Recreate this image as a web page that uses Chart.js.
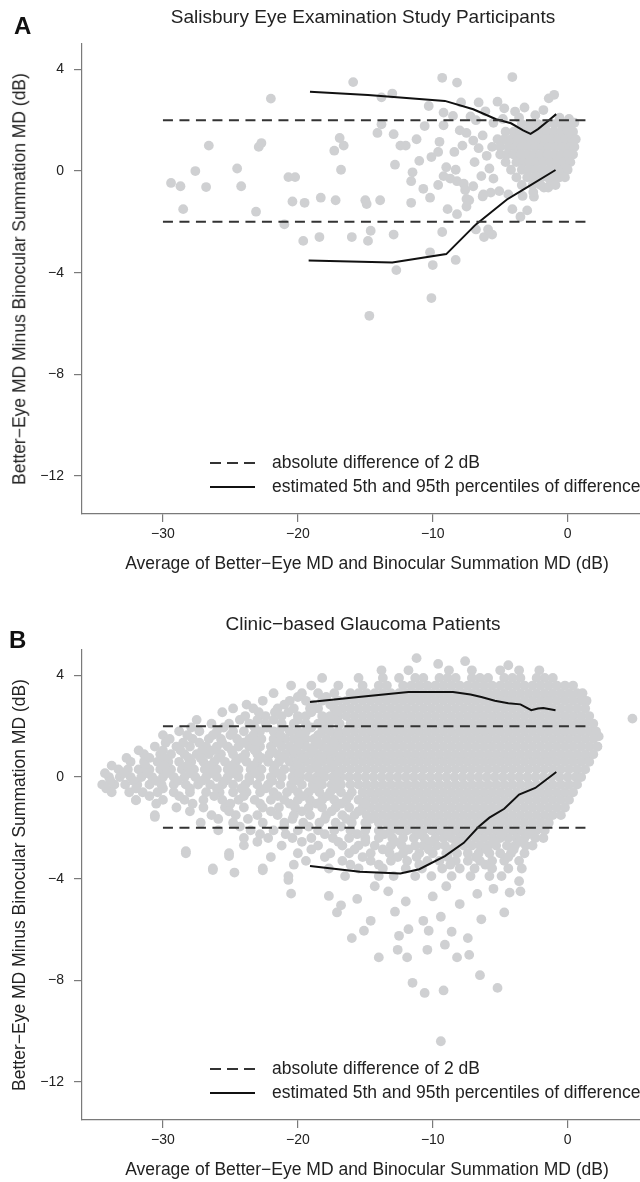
<!DOCTYPE html>
<html>
<head>
<meta charset="utf-8">
<script src="https://cdn.jsdelivr.net/npm/chart.js@4.4.1/dist/chart.umd.min.js"></script>
<style>
  body { margin:0; background:#fff; width:640px; height:1182px; overflow:hidden; position:relative;
         font-family:"Liberation Sans", Arial, sans-serif; color:#222; }
  .panel { position:absolute; left:0; width:640px; height:606px; overflow:hidden; }
  .panel canvas { position:absolute; left:0; top:0; }
  .lbl { position:absolute; white-space:nowrap; line-height:1; }
  .letter { font-size:24px; font-weight:bold; color:#111; transform:translateY(-50%); }
  .title { font-size:19px; transform:translate(-50%,-50%); }
  .xtitle { font-size:17.5px; transform:translate(-50%,-50%); }
  .ytitle { font-size:17.5px; transform:translate(-50%,-50%) rotate(-90deg); }
  .key { position:absolute; left:210px; width:45px; height:2px; }
  .key.dash { background:repeating-linear-gradient(to right, #333 0 11px, transparent 11px 17px); }
  .key.solid { background:#111; }
  .keytext { font-size:17.5px; left:272px; transform:translateY(-50%); }
</style>
</head>
<body>

<div class="panel" style="top:0">
  <canvas id="chartA" width="660" height="560"></canvas>
  <div class="lbl letter" style="left:14px; top:26px">A</div>
  <div class="lbl title" style="left:363px; top:16px">Salisbury Eye Examination Study Participants</div>
  <div class="lbl ytitle" style="left:20px; top:279px">Better−Eye MD Minus Binocular Summation MD (dB)</div>
  <div class="lbl xtitle" style="left:367px; top:564px">Average of Better−Eye MD and Binocular Summation MD (dB)</div>
  <div class="key dash" style="top:462px"></div>
  <div class="lbl keytext" style="top:463px">absolute difference of 2 dB</div>
  <div class="key solid" style="top:486px"></div>
  <div class="lbl keytext" style="top:487px">estimated 5th and 95th percentiles of difference</div>
</div>

<div class="panel" style="top:606px">
  <canvas id="chartB" width="660" height="560"></canvas>
  <div class="lbl letter" style="left:9px; top:34px">B</div>
  <div class="lbl title" style="left:363px; top:17px">Clinic−based Glaucoma Patients</div>
  <div class="lbl ytitle" style="left:20px; top:279px">Better−Eye MD Minus Binocular Summation MD (dB)</div>
  <div class="lbl xtitle" style="left:367px; top:564px">Average of Better−Eye MD and Binocular Summation MD (dB)</div>
  <div class="key dash" style="top:462px"></div>
  <div class="lbl keytext" style="top:463px">absolute difference of 2 dB</div>
  <div class="key solid" style="top:486px"></div>
  <div class="lbl keytext" style="top:487px">estimated 5th and 95th percentiles of difference</div>
</div>

<script>
// ---- axes ----
const xTicks = [-30, -20, -10, 0];
const yTicks = [-12, -8, -4, 0, 4];
const xRange = [-36, 6.4];
const yRange = [-13.5, 5];

// ---- reference lines (|difference| = 2 dB) ----
const limitX = [-30, 1.5];
const limitY = [2, -2];

// ---- panel A: Salisbury Eye Examination Study ----
const aPoints = [
  [-29.4,-0.47],[-28.7,-0.6],[-27.6,0.0],[-26.8,-0.63],[-28.5,-1.5],[-26.6,1.0],[-24.5,0.1],[-24.2,-0.6],
  [-23.1,-1.6],[-22.9,0.95],[-22.7,1.1],[-22.0,2.85],[-21.0,-2.1],[-20.7,-0.24],[-20.2,-0.24],[-20.4,-1.2],
  [-19.5,-1.25],[-19.6,-2.75],[-18.3,-1.05],[-18.4,-2.6],[-17.2,-1.15],[-17.3,0.8],[-16.9,1.3],[-16.6,1.0],
  [-16.8,0.05],[-16.0,-2.6],[-15.9,3.5],[-15.0,-1.15],[-14.9,-1.3],[-14.6,-2.35],[-14.8,-2.75],[-13.9,-1.15],
  [-14.1,1.5],[-14.7,-5.7],[-13.8,2.9],[-13.0,3.05],[-12.9,1.45],[-12.8,0.25],[-12.9,-2.5],[-12.7,-3.9],
  [-12.4,1.0],[-12.0,1.0],[-11.6,-1.25],[-11.6,-0.4],[-11.5,-0.05],[-11.2,1.25],[-11.0,0.4],[-10.7,-0.7],
  [-10.2,-1.05],[-10.1,0.55],[-10.0,-3.7],[-10.1,-5.0],[-10.2,-3.2],[-10.3,2.56],[-9.3,3.67],[-9.6,-0.55],
  [-9.6,0.75],[-9.5,1.15],[-9.3,-2.4],[-9.2,-0.2],[-9.0,0.15],[-8.9,-1.5],[-9.2,2.3],[-8.2,3.48],
  [-8.4,0.75],[-8.3,0.05],[-8.7,-0.3],[-8.2,-0.4],[-8.2,-1.7],[-8.3,-3.5],[-7.9,2.7],[-7.7,-0.5],
  [-7.6,-0.75],[-7.5,-1.1],[-7.3,-1.15],[-7.5,-1.4],[-7.0,-0.6],[-6.8,-2.3],[-6.6,2.7],[-6.2,-2.6],
  [-5.9,-2.3],[-5.6,-2.5],[-6.3,-1.0],[-5.7,-0.85],[-5.2,2.73],[-4.7,2.47],[-4.1,3.7],[-4.1,-1.5],
  [-3.5,-1.8],[-3.0,-1.55],[-3.9,2.34],[-1.8,2.4],[-1.4,2.86],[-1.0,3.0],[-13.8,1.84],[-10.6,1.77],
  [-9.2,1.8],[-8.5,2.17],[-7.5,1.5],[-7.0,1.2],[-6.6,0.9],[-6.9,0.35],[-6.3,1.4],[-6.0,0.6],
  [-5.8,0.1],[-5.5,-0.3],[-6.4,-0.2],[-7.8,1.0],[-8.0,1.6],[-6.8,2.0],[-5.5,1.9],[-4.8,2.05],
  [-3.6,2.1],[-3.2,2.5],[-2.4,2.2],[-7.2,2.15],[-6.1,2.35],[-6.25,-0.92],[-5.07,-0.79],[-4.4,-0.92],
  [-3.34,-0.98],[-2.5,-1.01],[-2.55,-0.83],[-1.76,-0.65],[-1.44,-0.65],[-0.6,2.1],[0.1,2.05],[0.5,1.9]
];
const aCoreRows = [
  [1.85,  [-3.4,-2.8,-2.2,-1.6,-1.0,-0.5,-0.1,0.3]],
  [1.55,  [-4.6,-4.0,-3.5,-3.0,-2.5,-2.0,-1.5,-1.0,-0.5,0.0,0.4]],
  [1.25,  [-5.2,-4.7,-4.2,-3.7,-3.2,-2.7,-2.2,-1.7,-1.2,-0.7,-0.2,0.3,0.6]],
  [0.95,  [-5.6,-5.0,-4.4,-3.9,-3.4,-2.9,-2.4,-1.9,-1.4,-0.9,-0.4,0.1,0.5]],
  [0.65,  [-5.0,-4.5,-4.0,-3.5,-3.0,-2.5,-2.0,-1.5,-1.0,-0.5,0.0,0.4]],
  [0.35,  [-4.6,-3.8,-3.3,-2.8,-2.3,-1.8,-1.3,-0.8,-0.3,0.2]],
  [0.05,  [-4.2,-3.4,-2.9,-2.4,-1.9,-1.4,-0.9,-0.4,0.0]],
  [-0.25, [-3.8,-3.0,-2.5,-2.0,-1.5,-1.0,-0.6,-0.2]],
  [-0.55, [-3.4,-2.6,-2.0,-1.3,-0.9]]
];
const aUpper95 = [[-19.1,3.12],[-14.8,2.99],[-9.1,2.76],[-7.0,2.43],[-5.3,2.04],[-4.2,1.88],
                  [-3.3,1.6],[-2.75,1.46],[-2.2,1.65],[-1.5,1.95],[-0.85,2.24]];
const aLower5  = [[-19.2,-3.52],[-13.0,-3.6],[-9.0,-3.27],[-6.8,-2.1],[-4.5,-1.12],[-3.2,-0.7],[-0.9,0.04]];

// ---- panel B: clinic-based glaucoma patients ----
const bPoints = [
  [-11.2,4.68],[-7.6,4.56],[-9.6,4.45],[-4.4,4.4],[4.8,2.3],[2.3,1.6],[2.2,1.2],[1.5,0.75],
  [-30.6,-1.57],[-32.0,-0.92],[-28.3,-2.92],[-25.1,-3.11],[-24.0,-2.69],[-24.7,-3.76],[-26.3,-3.66],[-22.6,-3.67],
  [-20.7,-4.05],[-20.5,-4.59],[-17.7,-4.68],[-16.8,-5.05],[-17.1,-5.33],[-16.0,-6.34],[-15.1,-6.05],[-14.6,-5.66],
  [-12.5,-6.25],[-11.8,-5.99],[-10.7,-5.66],[-10.3,-6.05],[-8.6,-6.09],[-7.4,-6.34],[-4.7,-5.33],[-13.3,-4.5],
  [-12.0,-4.9],[-10.0,-4.7],[-9.0,-4.3],[-8.0,-5.0],[-6.7,-4.6],[-5.5,-4.4],[-4.3,-4.55],[-3.6,-4.1],
  [-3.5,-4.5],[-14.3,-4.3],[-15.6,-4.8],[-12.8,-5.3],[-9.4,-5.5],[-6.4,-5.6],[-11.5,-8.1],[-10.6,-8.5],
  [-9.2,-8.4],[-7.3,-7.0],[-6.5,-7.8],[-5.2,-8.3],[-11.9,-7.1],[-10.4,-6.8],[-9.1,-6.6],[-8.2,-7.1],
  [-12.6,-6.8],[-14.0,-7.1],[-9.4,-10.4]
];
const bRows = [
  [4.2,  [-13.8,-11.8,-8.8,-7.1,-5.0,-3.6,-2.1]],
  [3.9,  [-18.2,-15.5,-13.7,-12.5,-11.3,-10.7,-9.5,-8.9,-8.3,-7.1,-6.5,-5.9,-4.7,-4.1,-3.5,-2.3,-1.7,-1.1]],
  [3.6,  [-20.5,-19.0,-17.0,-15.2,-14.0,-13.4,-12.2,-11.6,-11.0,-10.4,-9.8,-9.2,-8.6,-8.0,-7.4,-6.8,-6.2,-5.6,-5.0,
          -4.4,-3.8,-3.2,-2.6,-2.0,-1.4,-0.8,-0.2,0.4]],
  [3.3,  [-21.8,-19.7,-18.5,-17.3,-16.1,-15.5,-14.9,-14.3,-13.7,-13.1,-12.5,-11.9,-11.3,-10.7,-10.1,-9.5,-8.9,-8.3,
          -7.7,-7.1,-6.5,-5.9,-5.3,-4.7,-4.1,-3.5,-2.9,-2.3,-1.7,-1.1,-0.5,0.1,0.7,1.1]],
  [3.0,  [-22.6,-20.6,-19.4,-18.2,-17.0,-16.4,-15.8,-15.2,-14.6,-14.0,-13.4,-12.8,-12.2,-11.6,-11.0,-10.4,-9.8,-9.2,
          -8.6,-8.0,-7.4,-6.8,-6.2,-5.6,-5.0,-4.4,-3.8,-3.2,-2.6,-2.0,-1.4,-0.8,-0.2,0.4,1.0,1.4]],
  [2.7,  [-24.8,-23.3,-21.5,-20.3,-19.1,-18.5,-17.3,-16.7,-16.1,-15.5,-14.9,-14.3,-13.7,-13.1,-12.5,-11.9,-11.3,-10.7,
          -10.1,-9.5,-8.9,-8.3,-7.7,-7.1,-6.5,-5.9,-5.3,-4.7,-4.1,-3.5,-2.9,-2.3,-1.7,-1.1,-0.5,0.1,0.7,1.3]],
  [2.4,  [-23.9,-22.4,-21.2,-20.0,-19.4,-18.2,-17.6,-17.0,-16.4,-15.8,-15.2,-14.6,-14.0,-13.4,-12.8,-12.2,-11.6,-11.0,
          -10.4,-9.8,-9.2,-8.6,-8.0,-7.4,-6.8,-6.2,-5.6,-5.0,-4.4,-3.8,-3.2,-2.6,-2.0,-1.4,-0.8,-0.2,0.4,1.0,1.6]],
  [2.1,  [-26.4,-25.1,-23.6,-22.4,-21.2,-20.3,-19.4,-18.5,-17.7,-16.9,-16.1,-15.5,-14.9,-14.3,-13.7,-13.1,-12.5,-11.9,
          -11.3,-10.7,-10.1,-9.5,-8.9,-8.3,-7.7,-7.1,-6.5,-5.9,-5.3,-4.7,-4.1,-3.5,-2.9,-2.3,-1.7,-1.1,-0.5,0.1,0.7,1.3,1.9]],
  [1.8,  [-28.8,-27.3,-26.0,-24.8,-24.0,-22.8,-21.8,-20.6,-20.0,-19.4,-18.2,-17.6,-17.0,-16.4,-15.8,-15.2,-14.6,-14.0,
          -13.4,-12.8,-12.2,-11.6,-11.0,-10.4,-9.8,-9.2,-8.6,-8.0,-7.4,-6.8,-6.2,-5.6,-5.0,-4.4,-3.8,-3.2,-2.6,-2.0,
          -1.4,-0.8,-0.2,0.4,1.0,1.6,2.1]],
  [1.5,  [-29.5,-27.8,-26.6,-25.7,-24.5,-23.6,-22.7,-21.8,-20.9,-20.3,-19.4,-18.8,-17.9,-17.3,-16.7,-16.1,-15.5,-14.9,
          -14.3,-13.7,-13.1,-12.5,-11.9,-11.3,-10.7,-10.1,-9.5,-8.9,-8.3,-7.7,-7.1,-6.5,-5.9,-5.3,-4.7,-4.1,-3.5,-2.9,
          -2.3,-1.7,-1.1,-0.5,0.1,0.7,1.3,1.9]],
  [1.2,  [-30.6,-29.0,-28.0,-26.8,-26.0,-25.2,-24.4,-23.6,-22.8,-22.0,-21.2,-20.6,-20.0,-19.4,-18.8,-18.2,-17.6,-17.0,
          -16.4,-15.8,-15.2,-14.6,-14.0,-13.4,-12.8,-12.2,-11.6,-11.0,-10.4,-9.8,-9.2,-8.6,-8.0,-7.4,-6.8,-6.2,-5.6,
          -5.0,-4.4,-3.8,-3.2,-2.6,-2.0,-1.4,-0.8,-0.2,0.4,1.0,1.6,2.2]],
  [0.9,  [-31.4,-30.2,-29.4,-28.4,-27.5,-26.6,-25.7,-24.8,-23.9,-23.0,-22.1,-21.5,-20.9,-20.3,-19.7,-19.1,-18.5,-17.9,
          -17.3,-16.7,-16.1,-15.5,-14.9,-14.3,-13.7,-13.1,-12.5,-11.9,-11.3,-10.7,-10.1,-9.5,-8.9,-8.3,-7.7,-7.1,-6.5,
          -5.9,-5.3,-4.7,-4.1,-3.5,-2.9,-2.3,-1.7,-1.1,-0.5,0.1,0.7,1.3,1.9]],
  [0.6,  [-32.4,-31.4,-30.4,-29.6,-28.8,-27.9,-27.0,-26.2,-25.4,-24.6,-23.8,-23.0,-22.2,-21.4,-20.6,-20.0,-19.4,-18.8,
          -18.2,-17.6,-17.0,-16.4,-15.8,-15.2,-14.6,-14.0,-13.4,-12.8,-12.2,-11.6,-11.0,-10.4,-9.8,-9.2,-8.6,-8.0,-7.4,
          -6.8,-6.2,-5.6,-5.0,-4.4,-3.8,-3.2,-2.6,-2.0,-1.4,-0.8,-0.2,0.4,1.0,1.6]],
  [0.3,  [-33.3,-32.6,-31.8,-31.0,-30.2,-29.4,-28.6,-27.7,-26.9,-26.0,-25.2,-24.4,-23.5,-22.7,-21.8,-21.0,-20.3,-19.7,
          -19.1,-18.5,-17.9,-17.3,-16.7,-16.1,-15.5,-14.9,-14.3,-13.7,-13.1,-12.5,-11.9,-11.3,-10.7,-10.1,-9.5,-8.9,
          -8.3,-7.7,-7.1,-6.5,-5.9,-5.3,-4.7,-4.1,-3.5,-2.9,-2.3,-1.7,-1.1,-0.5,0.1,0.7,1.3]],
  [0.0,  [-34.0,-33.2,-32.4,-31.6,-30.8,-30.0,-29.2,-28.4,-27.6,-26.8,-26.0,-25.2,-24.4,-23.6,-22.8,-22.0,-21.2,-20.4,
          -19.8,-19.2,-18.6,-18.0,-17.4,-16.8,-16.2,-15.6,-15.0,-14.4,-13.8,-13.2,-12.6,-12.0,-11.4,-10.8,-10.2,-9.6,
          -9.0,-8.4,-7.8,-7.2,-6.6,-6.0,-5.4,-4.8,-4.2,-3.6,-3.0,-2.4,-1.8,-1.2,-0.6,0.0,0.6,1.0]],
  [-0.3, [-34.5,-33.6,-32.8,-31.9,-31.0,-30.1,-29.2,-28.3,-27.4,-26.5,-25.6,-24.8,-23.9,-23.0,-22.2,-21.3,-20.5,-19.7,
          -18.9,-18.2,-17.5,-16.8,-16.1,-15.5,-14.9,-14.3,-13.7,-13.1,-12.5,-11.9,-11.3,-10.7,-10.1,-9.5,-8.9,-8.3,
          -7.7,-7.1,-6.5,-5.9,-5.3,-4.7,-4.1,-3.5,-2.9,-2.3,-1.7,-1.1,-0.5,0.1,0.7]],
  [-0.6, [-33.8,-32.5,-31.5,-30.4,-29.2,-28.0,-26.8,-25.8,-24.8,-23.8,-22.8,-21.8,-20.8,-20.0,-19.2,-18.4,-17.6,-16.8,
          -16.0,-15.2,-14.6,-14.0,-13.4,-12.8,-12.2,-11.6,-11.0,-10.4,-9.8,-9.2,-8.6,-8.0,-7.4,-6.8,-6.2,-5.6,-5.0,
          -4.4,-3.8,-3.2,-2.6,-2.0,-1.4,-0.8,-0.2,0.4]],
  [-0.9, [-32.0,-30.0,-28.4,-27.0,-25.6,-24.4,-23.2,-22.0,-21.0,-20.0,-19.1,-18.2,-17.3,-16.4,-15.5,-14.9,-14.3,-13.7,
          -13.1,-12.5,-11.9,-11.3,-10.7,-10.1,-9.5,-8.9,-8.3,-7.7,-7.1,-6.5,-5.9,-5.3,-4.7,-4.1,-3.5,-2.9,-2.3,-1.7,
          -1.1,-0.5,0.1]],
  [-1.2, [-29.0,-27.0,-25.4,-24.0,-22.6,-21.4,-20.2,-19.2,-18.2,-17.2,-16.2,-15.2,-14.6,-14.0,-13.4,-12.8,-12.2,-11.6,
          -11.0,-10.4,-9.8,-9.2,-8.6,-8.0,-7.4,-6.8,-6.2,-5.6,-5.0,-4.4,-3.8,-3.2,-2.6,-2.0,-1.4,-0.8,-0.2]],
  [-1.5, [-30.6,-26.4,-24.6,-23.0,-21.5,-20.3,-19.1,-17.9,-16.7,-15.8,-14.9,-14.3,-13.7,-13.1,-12.5,-11.9,-11.3,-10.7,
          -10.1,-9.5,-8.9,-8.3,-7.7,-7.1,-6.5,-5.9,-5.3,-4.7,-4.1,-3.5,-2.9,-2.3,-1.7,-1.1,-0.5]],
  [-1.8, [-27.2,-24.8,-22.6,-21.0,-19.6,-18.4,-17.2,-16.0,-15.0,-14.0,-13.4,-12.8,-12.2,-11.6,-11.0,-10.4,-9.8,-9.2,
          -8.6,-8.0,-7.4,-6.8,-6.2,-5.6,-5.0,-4.4,-3.8,-3.2,-2.6,-2.0,-1.4]],
  [-2.1, [-25.9,-23.5,-21.8,-20.0,-18.5,-17.3,-16.1,-15.0,-14.0,-13.1,-12.5,-11.9,-11.3,-10.7,-10.1,-9.5,-8.9,-8.3,
          -7.7,-7.1,-6.5,-5.9,-5.3,-4.7,-4.1,-3.5,-2.9,-2.3,-1.7]],
  [-2.4, [-24.0,-22.2,-20.4,-19.0,-17.4,-16.2,-15.0,-14.0,-13.0,-12.2,-11.4,-10.6,-9.8,-9.2,-8.6,-8.0,-7.4,-6.8,-6.2,
          -5.6,-5.0,-4.4,-3.8,-3.2,-2.4,-1.8]],
  [-2.7, [-21.2,-18.5,-16.7,-15.5,-14.3,-13.1,-12.3,-11.3,-10.7,-9.7,-9.1,-8.3,-7.7,-7.1,-6.5,-5.9,-5.3,-4.5,-3.9,-3.1,-2.6]],
  [-3.0, [-28.3,-25.1,-20.0,-17.6,-16.2,-14.6,-13.2,-12.2,-11.0,-10.0,-9.0,-8.2,-7.4,-6.6,-5.8,-5.0,-4.2,-3.2]],
  [-3.3, [-19.4,-16.7,-14.6,-13.1,-11.9,-10.4,-9.5,-8.3,-7.4,-6.5,-5.6,-4.7,-3.6]],
  [-3.6, [-26.3,-22.6,-17.7,-15.5,-13.7,-12.0,-10.8,-9.3,-8.0,-6.9,-5.6,-4.4,-3.4]],
  [-3.9, [-20.7,-16.5,-14.0,-12.9,-11.3,-10.1,-8.6,-7.2,-5.8,-4.9]]
];
// looser points between the rows, mostly in the left wing and under the -2 dB line
const bHalfRows = [
  [3.15,  [-20.0,-17.9]],
  [2.85,  [-23.8,-21.0,-18.9,-17.6]],
  [2.55,  [-25.6,-22.9,-21.7,-20.7,-19.0,-17.1]],
  [2.25,  [-27.5,-24.3,-23.0,-21.8,-20.0,-18.1,-17.2]],
  [1.95,  [-27.9,-25.5,-23.2,-22.3,-21.2,-19.0,-17.9]],
  [1.65,  [-30.0,-28.2,-26.3,-25.0,-23.3,-21.3,-19.8,-18.5,-17.0]],
  [1.35,  [-29.8,-28.5,-27.3,-25.6,-24.0,-23.1,-21.5,-19.9,-18.5,-17.3]],
  [1.05,  [-31.8,-30.0,-28.7,-27.1,-26.3,-24.9,-23.2,-21.9,-20.3,-18.9,-17.6]],
  [0.75,  [-32.7,-31.0,-29.9,-28.1,-27.2,-25.9,-24.2,-22.7,-21.1,-19.6,-18.2,-16.9]],
  [0.45,  [-33.8,-31.3,-29.9,-28.2,-26.5,-24.9,-23.3,-21.7,-20.0,-18.6,-17.4]],
  [0.15,  [-34.3,-32.9,-31.2,-29.7,-28.0,-26.4,-24.8,-23.2,-21.5,-19.9,-18.3,-17.0]],
  [-0.15, [-33.9,-32.2,-30.5,-28.9,-27.1,-25.4,-23.6,-21.9,-20.2,-18.6,-17.2]],
  [-0.45, [-34.2,-32.0,-30.0,-28.0,-26.0,-24.2,-22.4,-20.4,-18.8,-17.1]],
  [-0.75, [-31.0,-28.8,-26.2,-24.0,-21.5,-19.6,-17.8,-16.2]],
  [-1.05, [-30.5,-27.8,-25.0,-22.8,-20.6,-18.6,-16.8,-15.0]],
  [-1.35, [-28.0,-25.1,-22.0,-19.7,-17.5,-15.5]],
  [-1.65, [-25.9,-23.7,-20.4,-18.0,-16.4,-14.6]],
  [-1.95, [-24.3,-21.0,-19.2,-16.8,-14.9,-13.0]],
  [-2.25, [-22.8,-20.9,-18.0,-15.6,-13.6,-11.0,-8.9,-6.9,-4.9,-2.9]],
  [-2.55, [-23.0,-19.7,-17.0,-15.0,-12.8,-10.2,-8.0,-5.5,-3.5]],
  [-2.85, [-19.0,-15.8,-13.7,-11.8,-10.3,-8.6,-6.0,-4.0]],
  [-3.15, [-22.0,-18.0,-15.2,-12.6,-11.2,-8.9,-6.8,-4.4]],
  [-3.45, [-20.3,-16.1,-14.0,-11.0,-8.7,-6.1]]
];
const bUpper95 = [[-19.1,2.95],[-15.5,3.15],[-11.8,3.35],[-8.5,3.35],[-7.2,3.25],[-6.4,3.15],[-5.4,3.0],
                  [-4.4,2.9],[-3.5,2.86],[-2.7,2.63],[-2.2,2.7],[-1.8,2.72],[-0.9,2.63]];
const bLower5  = [[-19.1,-3.5],[-15.4,-3.73],[-12.4,-3.8],[-11.0,-3.63],[-9.1,-3.11],[-7.7,-2.59],[-6.6,-1.96],
                  [-5.8,-1.6],[-4.7,-1.25],[-3.6,-0.69],[-2.4,-0.43],[-0.84,0.2]];

// ---- helpers ----
const toXY = pairs => pairs.map(([x, y]) => ({ x, y }));
const fmt = v => (v < 0 ? '\u2212' + (-v) : String(v));
const axisGrey = '#7a7a7a';

function scatterData(points, rows) {
    const out = toXY(points);
    rows.forEach(([y, xs]) => xs.forEach(x => out.push({ x, y })));
    return out;
}

function lineSet(data, color, dash) {
    return { data, showLine: true, borderColor: color, borderWidth: 2, borderDash: dash,
             pointRadius: 0, fill: false, tension: 0, order: 1 };
}

function makeChart(id, points, rows, upper, lower) {
    new Chart(document.getElementById(id), {
        type: 'scatter',
        data: {
            datasets: [
                { data: scatterData(points, rows), pointRadius: 4.9, pointBackgroundColor: '#cfd0d2',
                  pointBorderWidth: 0, order: 5 },
                lineSet(limitX.map(x => ({ x, y: limitY[0] })), '#333', [10, 6.5]),
                lineSet(limitX.map(x => ({ x, y: limitY[1] })), '#333', [10, 6.5]),
                lineSet(toXY(upper), '#111', []),
                lineSet(toXY(lower), '#111', [])
            ]
        },
        options: {
            responsive: false,
            animation: false,
            events: [],
            layout: { padding: { top: 44, right: 6, left: 0, bottom: 0 } },
            plugins: { legend: { display: false }, tooltip: { enabled: false } },
            scales: {
                x: {
                    type: 'linear', min: xRange[0], max: xRange[1],
                    afterBuildTicks: s => { s.ticks = xTicks.map(v => ({ value: v })); },
                    afterFit: s => { s.height = 46; },
                    ticks: { callback: fmt, color: '#222', padding: 4, maxRotation: 0, autoSkip: false,
                             font: { family: 'Liberation Sans', size: 14 } },
                    grid: { drawOnChartArea: false, tickLength: 8, color: axisGrey, lineWidth: 1.2 },
                    border: { color: axisGrey, width: 1.2 }
                },
                y: {
                    type: 'linear', min: yRange[0], max: yRange[1],
                    afterBuildTicks: s => { s.ticks = yTicks.map(v => ({ value: v })); },
                    afterFit: s => { s.width = 82; },
                    ticks: { callback: fmt, color: '#222', padding: 10, autoSkip: false,
                             font: { family: 'Liberation Sans', size: 14 } },
                    grid: { drawOnChartArea: false, tickLength: 8, color: axisGrey, lineWidth: 1.2 },
                    border: { color: axisGrey, width: 1.2 }
                }
            }
        }
    });
}

makeChart('chartA', aPoints, aCoreRows, aUpper95, aLower5);
makeChart('chartB', bPoints, bRows.concat(bHalfRows), bUpper95, bLower5);
</script>
</body>
</html>
